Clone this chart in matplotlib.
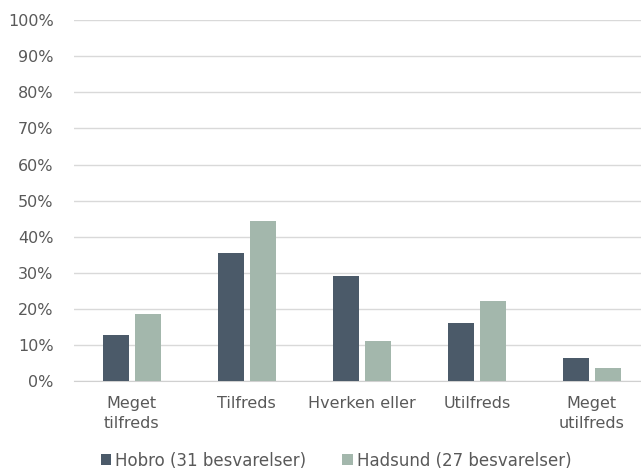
import numpy as np
import matplotlib.pyplot as plt
from matplotlib.ticker import PercentFormatter

# Data
categories = ['Meget\ntilfreds', 'Tilfreds', 'Hverken eller', 'Utilfreds', 'Meget\nutilfreds']
hobro = [12.9, 35.5, 29.0, 16.1, 6.5]
hadsund = [18.5, 44.4, 11.1, 22.2, 3.7]
series_names = ['Hobro (31 besvarelser)', 'Hadsund (27 besvarelser)']
colors = ['#4b5a69', '#a3b7ac']

plt.rcParams['font.family'] = 'DejaVu Sans'

fig = plt.figure(figsize=(6.41, 4.70), dpi=100)
ax = fig.add_axes([0.116, 0.189, 0.897, 0.768])

x = np.arange(len(categories))
w = 0.225
ax.bar(x - 0.14, hobro, w, color=colors[0], label=series_names[0], zorder=3)
ax.bar(x + 0.143, hadsund, w, color=colors[1], label=series_names[1], zorder=3)

ax.set_xlim(-0.5, 4.5)
ax.set_ylim(0, 100)
ax.set_yticks(np.arange(0, 101, 10))
ax.yaxis.set_major_formatter(PercentFormatter(decimals=0))
ax.set_xticks(x)
ax.set_xticklabels(categories, linespacing=1.35)
ax.grid(axis='y', color='#d9d9d9', linewidth=1, zorder=0)

for s in ['top', 'right', 'left']:
    ax.spines[s].set_visible(False)
ax.spines['bottom'].set_color('#d0d0d0')
ax.tick_params(axis='both', length=0, labelsize=11.5, colors='#595959')
ax.tick_params(axis='x', pad=11)
ax.tick_params(axis='y', pad=15)

fig.legend(loc='center', ncol=2, frameon=False, fontsize=12,
           handlelength=0.65, handleheight=0.65, columnspacing=2.2,
           handletextpad=0.2, bbox_to_anchor=(0.524, 0.02),
           labelcolor='#595959')

plt.savefig('out.png', dpi=100)
